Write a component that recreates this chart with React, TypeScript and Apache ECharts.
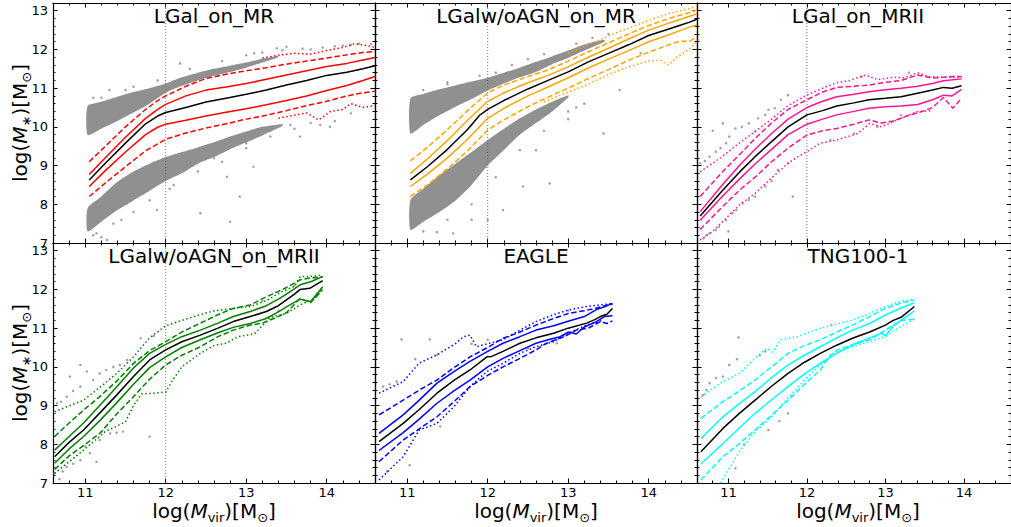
import React, { useEffect, useRef } from "react";
import * as echarts from "echarts";

const FONT = "DejaVu Sans";
const X_MIN = 10.6;
const X_MAX = 14.6;
const Y_MIN = 7;
const Y_MAX = 13.2;
const X_MAJOR = [11, 12, 13, 14];
const X_MINOR = [10.6, 10.8, 11.0, 11.2, 11.4, 11.6, 11.8, 12.0, 12.2, 12.4, 12.6, 12.8, 13.0, 13.2, 13.4, 13.6, 13.8, 14.0, 14.2, 14.4, 14.6];
const Y_MAJOR = [7, 8, 9, 10, 11, 12, 13];
const Y_MINOR = [7.0, 7.2, 7.4, 7.6, 7.8, 8.0, 8.2, 8.4, 8.6, 8.8, 9.0, 9.2, 9.4, 9.6, 9.8, 10.0, 10.2, 10.4, 10.6, 10.8, 11.0, 11.2, 11.4, 11.6, 11.8, 12.0, 12.2, 12.4, 12.6, 12.8, 13.0, 13.2];

const TITLES = ["LGal_on_MR", "LGalw/oAGN_on_MR", "LGal_on_MRII", "LGalw/oAGN_on_MRII", "EAGLE", "TNG100-1"];
const COLORS = ["#ff0000", "#ffa500", "#ff1493", "#008000", "#0000ff", "#00ffff"];
const VLINE_PANELS = [0, 1, 2, 3];

// ---------- Panel 1: LGal_on_MR ----------
const P1_MED = [[11.05,8.63],[11.25,9.06],[11.5,9.58],[11.75,10.08],[11.9,10.28],[12.0,10.37],[12.25,10.5],[12.5,10.64],[12.75,10.74],[13.0,10.84],[13.25,10.95],[13.5,11.08],[13.75,11.2],[14.0,11.33],[14.25,11.41],[14.45,11.5],[14.6,11.58]];
const P1_HI1 = [[11.05,8.77],[11.25,9.2],[11.5,9.73],[11.75,10.22],[11.9,10.45],[12.0,10.58],[12.25,10.8],[12.5,10.95],[12.75,11.03],[13.0,11.12],[13.25,11.23],[13.5,11.34],[13.75,11.45],[14.0,11.56],[14.25,11.64],[14.45,11.73],[14.6,11.79]];
const P1_LO1 = [[11.05,8.46],[11.25,8.87],[11.5,9.35],[11.75,9.8],[11.9,9.99],[12.0,10.07],[12.25,10.17],[12.5,10.28],[12.75,10.38],[13.0,10.47],[13.25,10.57],[13.5,10.68],[13.75,10.8],[14.0,10.94],[14.25,11.07],[14.45,11.2],[14.6,11.3]];
const P1_HI2 = [[11.05,9.1],[11.25,9.5],[11.5,10.0],[11.75,10.45],[11.9,10.68],[12.0,10.8],[12.25,11.05],[12.5,11.25],[12.75,11.36],[13.0,11.45],[13.25,11.53],[13.5,11.62],[13.75,11.7],[14.0,11.78],[14.25,11.86],[14.45,11.92],[14.6,11.95]];
const P1_LO2 = [[11.05,8.2],[11.25,8.55],[11.5,8.97],[11.75,9.38],[12.0,9.68],[12.25,9.84],[12.5,9.97],[12.75,10.08],[13.0,10.2],[13.25,10.3],[13.5,10.42],[13.75,10.55],[14.0,10.66],[14.25,10.8],[14.45,10.88],[14.6,10.92]];
const P1_HI3 = [[13.2,11.78],[13.4,11.85],[13.6,11.9],[13.8,11.88],[14.0,11.97],[14.2,12.05],[14.35,12.15],[14.5,12.1],[14.6,12.05]];
const P1_LO3 = [[13.4,10.22],[13.6,10.3],[13.75,10.36],[13.9,10.18],[14.05,10.4],[14.2,10.45],[14.3,10.6],[14.45,10.5],[14.6,10.55]];
const P1_CLOUD_UP_X = [11.03,11.2,11.4,11.6,11.8,12.0,12.2,12.4,12.6,12.8,13.0,13.2,13.4];
const P1_CLOUD_UP_TOP = [10.54,10.65,10.78,10.9,11.0,11.12,11.28,11.4,11.5,11.58,11.66,11.76,11.84];
const P1_CLOUD_UP_BOT = [9.79,9.95,10.15,10.37,10.6,10.88,11.06,11.2,11.32,11.42,11.53,11.66,11.8];
const P1_CLOUD_LO_X = [11.03,11.2,11.4,11.6,11.8,12.0,12.2,12.4,12.6,12.8,13.0,13.2,13.45];
const P1_CLOUD_LO_TOP = [7.9,8.2,8.58,8.85,9.05,9.22,9.35,9.47,9.6,9.75,9.88,10.0,10.07];
const P1_CLOUD_LO_BOT = [7.3,7.55,7.85,8.1,8.35,8.6,8.8,9.05,9.22,9.42,9.6,9.78,10.02];
const P1_PTS = [[11.14,7.25],[11.27,7.08],[11.52,8.02],[11.72,8.28],[11.89,7.85],[12.43,7.77],[12.76,8.71],[12.8,7.55],[12.92,8.2],[13.09,8.97],[13.0,9.58],[13.67,9.75],[13.92,10.05],[14.04,10.0],[11.6,11.04],[12.18,11.64],[13.38,12.03],[13.5,12.07],[13.1,11.9],[13.8,12.0],[14.2,12.1],[14.4,12.15],[13.3,9.9],[13.55,10.05],[12.6,9.2],[12.3,9.05],[11.2,7.15],[11.45,7.6],[12.05,8.4],[11.3,10.95],[11.1,10.75],
  [11.2,10.75],[11.5,10.95],[11.9,11.2],[12.3,11.5],[12.7,11.7],[13.0,11.85],[13.2,11.92],[13.45,11.98],[13.7,12.02],[13.95,12.05],[14.1,12.08],[14.3,12.12],[14.55,12.14],
  [11.1,7.2],[11.35,7.5],[11.6,7.8],[11.8,8.1],[12.1,8.5],[12.4,8.85],[12.7,9.1],[13.0,9.45],[13.3,9.75],[13.6,9.95],[13.8,10.1],[14.1,10.15],[14.3,10.35]];

// ---------- Panel 2: LGalw/oAGN_on_MR ----------
const P2_MED = [[11.04,8.63],[11.25,8.97],[11.5,9.42],[11.75,9.93],[11.9,10.3],[12.0,10.45],[12.2,10.68],[12.5,10.98],[12.75,11.2],[13.0,11.42],[13.25,11.68],[13.5,11.9],[13.75,12.12],[14.0,12.36],[14.25,12.53],[14.4,12.63],[14.5,12.7],[14.6,12.78]];
const P2_HI1 = [[11.04,8.8],[11.25,9.17],[11.5,9.65],[11.75,10.17],[12.0,10.66],[12.2,10.88],[12.5,11.14],[12.75,11.33],[13.0,11.55],[13.25,11.8],[13.5,12.03],[13.75,12.27],[14.0,12.5],[14.25,12.68],[14.5,12.85],[14.6,12.92]];
const P2_LO1 = [[11.04,8.46],[11.25,8.78],[11.5,9.2],[11.75,9.68],[12.0,10.22],[12.2,10.48],[12.5,10.8],[12.75,11.03],[13.0,11.27],[13.25,11.52],[13.5,11.75],[13.75,11.97],[14.0,12.2],[14.25,12.38],[14.5,12.57],[14.6,12.63]];
const P2_HI2 = [[11.04,9.12],[11.25,9.47],[11.5,9.93],[11.75,10.42],[12.0,10.88],[12.2,11.08],[12.5,11.3],[12.75,11.47],[13.0,11.7],[13.25,11.94],[13.5,12.17],[13.75,12.4],[14.0,12.62],[14.25,12.8],[14.5,12.95],[14.6,13.02]];
const P2_LO2 = [[11.04,8.2],[11.25,8.5],[11.5,8.92],[11.75,9.38],[12.0,9.92],[12.2,10.18],[12.5,10.52],[12.75,10.77],[13.0,11.0],[13.25,11.25],[13.5,11.48],[13.75,11.72],[14.0,11.93],[14.25,12.12],[14.4,12.22],[14.5,12.2],[14.6,12.33]];
const P2_HI3 = [[13.0,11.9],[13.25,12.12],[13.5,12.35],[13.75,12.55],[14.0,12.75],[14.25,12.93],[14.5,13.05],[14.6,13.12]];
const P2_LO3 = [[12.7,10.65],[13.0,10.9],[13.25,11.1],[13.5,11.35],[13.75,11.55],[14.0,11.7],[14.15,11.72],[14.25,11.6],[14.35,11.8],[14.5,12.0],[14.6,12.2]];
const P2_CLOUD_UP_X = [11.04,11.2,11.4,11.6,11.8,12.0,12.2,12.4,12.6,12.8,13.0,13.2,13.45];
const P2_CLOUD_UP_TOP = [10.74,10.85,10.97,11.07,11.17,11.27,11.4,11.53,11.68,11.82,11.97,12.13,12.25];
const P2_CLOUD_UP_BOT = [9.83,10.05,10.3,10.52,10.72,10.94,11.12,11.28,11.42,11.62,11.78,11.97,12.2];
const P2_CLOUD_LO_X = [11.04,11.2,11.4,11.6,11.8,12.0,12.2,12.4,12.6,12.8,13.0];
const P2_CLOUD_LO_TOP = [8.11,8.4,8.75,9.05,9.35,9.66,9.95,10.22,10.45,10.65,10.82];
const P2_CLOUD_LO_BOT = [7.34,7.55,7.8,8.1,8.5,9.0,9.4,9.8,10.1,10.4,10.76];
const P2_PTS = [[12.44,8.46],[12.19,7.85],[12.77,8.54],[12.0,7.6],[13.44,9.83],[13.64,10.95],[11.57,7.25],[11.37,7.28],[11.8,7.6],[12.6,9.4],[13.0,10.2],[13.1,10.5],[12.1,11.4],[12.5,11.75],[11.5,11.15],[13.3,12.3],[13.9,11.9],
  [11.2,10.95],[11.5,11.1],[11.9,11.32],[12.3,11.6],[12.7,11.88],[13.1,12.15],[13.5,12.4],
  [11.2,7.3],[11.5,7.6],[11.8,8.0],[12.1,8.7],[12.4,9.4],[12.7,9.9],[13.0,10.4],[13.2,10.6]];

// ---------- Panel 3: LGal_on_MRII ----------
const P3_MED = [[10.64,7.7],[10.93,8.37],[11.15,8.85],[11.34,9.23],[11.55,9.62],[11.76,10.0],[12.0,10.31],[12.2,10.42],[12.38,10.54],[12.6,10.62],[12.79,10.7],[13.0,10.74],[13.2,10.78],[13.41,10.87],[13.6,10.95],[13.74,11.02],[13.85,11.0],[13.97,11.06]];
const P3_HI1 = [[10.64,7.81],[10.93,8.52],[11.15,9.02],[11.34,9.42],[11.55,9.83],[11.76,10.2],[12.0,10.5],[12.2,10.66],[12.38,10.78],[12.6,10.84],[12.79,10.91],[13.0,10.96],[13.2,11.0],[13.41,11.05],[13.6,11.12],[13.74,11.19],[13.97,11.24]];
const P3_LO1 = [[10.64,7.59],[10.93,8.22],[11.15,8.67],[11.34,9.04],[11.55,9.42],[11.76,9.8],[12.0,10.07],[12.2,10.2],[12.38,10.31],[12.6,10.4],[12.79,10.48],[13.0,10.52],[13.2,10.54],[13.41,10.58],[13.6,10.7],[13.74,10.82],[13.85,10.8],[13.97,10.97]];
const P3_HI2 = [[10.64,8.2],[10.93,8.85],[11.15,9.3],[11.34,9.7],[11.55,10.1],[11.76,10.45],[12.0,10.7],[12.2,10.9],[12.38,11.02],[12.6,11.05],[12.79,11.08],[13.0,11.15],[13.2,11.2],[13.41,11.34],[13.6,11.26],[13.74,11.28],[13.85,11.3],[13.97,11.3]];
const P3_LO2 = [[10.64,7.35],[10.93,7.95],[11.15,8.38],[11.34,8.7],[11.55,9.1],[11.76,9.45],[12.0,9.79],[12.2,9.9],[12.38,9.96],[12.6,10.07],[12.79,10.18],[12.95,10.1],[13.1,10.15],[13.3,10.3],[13.5,10.42],[13.6,10.5],[13.74,10.76],[13.86,10.48],[13.97,10.74]];
const P3_HI3 = [[10.64,8.84],[10.9,9.2],[11.15,9.6],[11.34,9.88],[11.55,10.2],[11.76,10.55],[12.0,10.82],[12.2,11.0],[12.38,11.14],[12.55,11.2],[12.75,11.34],[12.9,11.22],[13.1,11.28],[13.25,11.27],[13.41,11.4],[13.55,11.3],[13.74,11.28],[13.97,11.28]];
const P3_LO3 = [[10.64,7.08],[10.8,7.3],[10.95,7.6],[11.15,8.0],[11.34,8.28],[11.55,8.68],[11.76,9.06],[11.9,9.25],[12.0,9.36],[12.17,9.58],[12.38,9.66],[12.65,9.83],[12.8,10.09],[12.95,10.0],[13.15,10.18],[13.4,10.39],[13.6,10.42]];
const P3_PTS = [[10.64,9.06],[10.7,9.12],[10.76,9.23],[10.84,9.36],[10.9,9.45],[10.97,9.58],[11.01,9.75],[11.09,9.96],[11.17,10.0],[11.26,10.09],[11.34,9.88],[11.38,10.22],[11.47,10.31],[11.51,10.44],[11.59,10.48],[11.67,10.7],[11.76,10.82],[10.93,10.09],[10.8,9.9],[10.68,7.12],[10.72,7.2],[10.76,7.25],[10.84,7.34],[10.88,7.42],[10.97,7.59],[11.05,7.77],[11.1,7.85],[11.18,8.02],[11.26,8.11],[11.34,8.2],[11.47,8.46],[11.55,8.6],[11.63,8.89],[11.76,9.06],[11.82,8.2],[11.0,7.3],[12.6,9.83],[12.9,10.0],[12.3,9.66],[12.7,11.3],[13.3,11.4],[13.2,10.3]];

// ---------- Panel 4: LGalw/oAGN_on_MRII ----------
const P4_MED = [[10.62,7.68],[10.8,8.05],[10.98,8.37],[11.2,8.85],[11.39,9.27],[11.6,9.75],[11.8,10.18],[12.0,10.44],[12.2,10.65],[12.43,10.82],[12.65,11.0],[12.84,11.17],[13.05,11.3],[13.25,11.43],[13.4,11.58],[13.5,11.73],[13.6,11.88],[13.67,12.0],[13.79,12.03],[13.95,12.23]];
const P4_HI1 = [[10.62,7.85],[10.8,8.2],[10.98,8.55],[11.2,9.05],[11.39,9.48],[11.6,9.97],[11.8,10.35],[12.0,10.58],[12.2,10.78],[12.43,10.95],[12.65,11.13],[12.84,11.3],[13.05,11.43],[13.25,11.58],[13.4,11.75],[13.5,11.88],[13.67,12.12],[13.8,12.2],[13.95,12.33]];
const P4_LO1 = [[10.62,7.51],[10.8,7.88],[10.98,8.2],[11.2,8.65],[11.39,9.07],[11.6,9.55],[11.8,9.98],[12.0,10.26],[12.2,10.5],[12.43,10.7],[12.65,10.88],[12.84,11.02],[13.05,11.12],[13.25,11.25],[13.4,11.42],[13.5,11.55],[13.67,11.75],[13.8,11.68],[13.95,12.07]];
const P4_HI2 = [[10.62,8.2],[10.8,8.55],[11.0,8.92],[11.18,9.23],[11.4,9.65],[11.6,10.09],[11.8,10.42],[12.0,10.65],[12.2,10.9],[12.43,11.13],[12.65,11.35],[12.84,11.51],[13.05,11.6],[13.25,11.81],[13.4,11.95],[13.5,12.05],[13.67,12.25],[13.8,12.3],[13.95,12.33]];
const P4_LO2 = [[10.62,7.35],[10.8,7.7],[11.0,8.0],[11.18,8.28],[11.4,8.8],[11.6,9.23],[11.8,9.68],[12.0,10.05],[12.2,10.3],[12.43,10.52],[12.65,10.78],[12.84,10.95],[13.05,11.08],[13.2,11.13],[13.4,11.3],[13.5,11.4],[13.67,11.77],[13.8,11.66],[13.95,11.99]];
const P4_HI3 = [[10.62,8.84],[10.98,9.14],[11.2,9.5],[11.39,9.83],[11.6,10.26],[11.8,10.75],[12.0,11.06],[12.2,11.2],[12.4,11.33],[12.6,11.45],[12.84,11.51],[13.05,11.56],[13.25,11.71],[13.45,11.95],[13.6,12.08],[13.67,12.33],[13.8,12.34],[13.95,12.37]];
const P4_LO3 = [[10.62,7.25],[10.98,7.85],[11.25,8.33],[11.5,8.58],[11.6,9.0],[11.7,9.3],[11.85,9.32],[12.0,9.35],[12.1,9.7],[12.2,10.0],[12.43,10.35],[12.6,10.55],[12.75,10.61],[12.9,10.78],[13.1,10.85],[13.3,11.28],[13.5,11.38],[13.67,11.6],[13.85,11.77],[13.95,12.03]];
const P4_PTS = [[10.65,9.06],[10.7,9.1],[10.77,9.23],[10.85,9.38],[10.94,9.49],[10.81,9.75],[10.94,10.05],[11.02,9.88],[11.1,9.66],[11.18,9.83],[11.26,9.92],[11.35,10.0],[11.43,10.05],[11.52,10.18],[11.69,10.74],[11.85,10.8],[10.62,7.25],[10.68,7.1],[10.72,7.3],[10.77,7.42],[10.85,7.5],[10.94,7.59],[11.06,7.77],[11.14,7.55],[11.18,8.11],[11.31,8.28],[11.39,8.3],[11.47,8.33],[11.8,8.2],[11.0,7.95],[13.4,11.45],[13.6,12.1],[13.85,12.3],[13.2,11.7]];

// ---------- Panel 5: EAGLE ----------
const P5_MED = [[10.65,8.07],[10.95,8.54],[11.15,8.9],[11.37,9.32],[11.58,9.65],[11.78,9.92],[11.99,10.26],[12.05,10.27],[12.19,10.4],[12.4,10.61],[12.6,10.75],[12.82,10.87],[13.0,11.0],[13.23,11.13],[13.33,11.22],[13.4,11.3],[13.48,11.36],[13.55,11.51]];
const P5_HI1 = [[10.65,8.28],[10.95,8.76],[11.15,9.14],[11.37,9.58],[11.58,9.88],[11.78,10.14],[12.0,10.4],[12.19,10.61],[12.4,10.78],[12.6,10.95],[12.82,11.06],[13.0,11.18],[13.2,11.3],[13.35,11.48],[13.45,11.55],[13.55,11.64]];
const P5_LO1 = [[10.65,7.84],[10.95,8.3],[11.15,8.65],[11.37,9.06],[11.58,9.38],[11.78,9.66],[12.0,10.0],[12.19,10.22],[12.4,10.42],[12.6,10.61],[12.75,10.7],[12.9,10.78],[13.0,10.9],[13.1,10.85],[13.2,11.03],[13.35,11.17],[13.45,11.3],[13.55,11.32]];
const P5_HI2 = [[10.65,8.76],[10.95,9.14],[11.15,9.4],[11.37,9.66],[11.58,9.98],[11.78,10.26],[12.0,10.5],[12.19,10.74],[12.4,10.9],[12.6,11.08],[12.82,11.25],[13.0,11.38],[13.2,11.45],[13.35,11.52],[13.45,11.58],[13.55,11.62]];
const P5_LO2 = [[10.65,7.55],[10.95,8.11],[11.15,8.4],[11.37,8.71],[11.58,9.1],[11.78,9.49],[12.0,9.78],[12.19,10.0],[12.4,10.22],[12.6,10.44],[12.73,10.61],[12.95,10.78],[13.1,10.95],[13.25,11.0],[13.4,11.17],[13.48,11.12],[13.55,11.19]];
const P5_HI3 = [[10.65,9.32],[10.95,9.62],[11.15,10.1],[11.37,10.31],[11.6,10.6],[11.7,10.78],[11.78,10.82],[11.86,10.52],[12.0,10.6],[12.19,10.7],[12.4,10.95],[12.6,11.17],[12.82,11.35],[13.0,11.47],[13.2,11.55],[13.4,11.6],[13.55,11.64]];
const P5_LO3 = [[10.65,7.08],[10.95,7.68],[11.15,8.37],[11.37,8.54],[11.58,8.97],[11.78,9.49],[11.99,9.88],[12.19,10.09],[12.4,10.35],[12.6,10.52],[12.82,10.65],[13.0,10.87],[13.23,11.08],[13.44,11.21]];
const P5_PTS = [[10.93,10.71],[11.28,10.71],[10.7,9.49],[10.78,9.55],[10.87,9.62],[11.37,10.31],[11.1,10.2],[11.41,8.46],[11.03,7.46],[12.86,10.61],[12.5,10.48],[11.8,10.6],[12.0,10.7],[13.0,11.45],[10.75,7.3]];

// ---------- Panel 6: TNG100-1 ----------
const P6_MED = [[10.65,7.81],[10.93,8.41],[11.14,8.8],[11.34,9.14],[11.55,9.5],[11.76,9.83],[11.97,10.12],[12.17,10.35],[12.38,10.56],[12.58,10.74],[12.8,10.9],[13.0,11.08],[13.1,11.2],[13.2,11.28],[13.37,11.56]];
const P6_HI1 = [[10.65,8.15],[10.93,8.71],[11.14,9.05],[11.34,9.36],[11.55,9.72],[11.76,10.05],[11.97,10.3],[12.17,10.52],[12.38,10.75],[12.58,10.95],[12.8,11.12],[13.0,11.34],[13.2,11.52],[13.37,11.66]];
const P6_LO1 = [[10.65,7.49],[10.93,8.02],[11.14,8.42],[11.34,8.8],[11.55,9.15],[11.76,9.49],[11.97,9.82],[12.17,10.09],[12.38,10.35],[12.58,10.57],[12.8,10.75],[12.95,10.87],[13.0,10.8],[13.1,11.05],[13.2,11.2],[13.37,11.45]];
const P6_HI2 = [[10.65,8.67],[10.93,9.1],[11.14,9.38],[11.34,9.66],[11.55,10.0],[11.76,10.35],[11.97,10.55],[12.17,10.7],[12.38,10.9],[12.58,11.08],[12.8,11.3],[13.0,11.51],[13.2,11.65],[13.37,11.73]];
const P6_LO2 = [[10.65,7.08],[10.93,7.68],[11.14,8.02],[11.34,8.37],[11.55,8.75],[11.76,9.14],[11.97,9.55],[12.17,9.92],[12.3,10.3],[12.4,10.45],[12.58,10.57],[12.8,10.7],[13.0,10.95],[13.2,11.2],[13.37,11.23]];
const P6_HI3 = [[10.65,9.23],[10.93,9.62],[11.14,9.83],[11.34,10.22],[11.45,10.42],[11.5,10.48],[11.56,10.38],[11.67,10.7],[11.88,10.78],[12.17,11.0],[12.58,11.21],[12.8,11.38],[13.0,11.56],[13.2,11.7],[13.37,11.75]];
const P6_LO3 = [[10.9,7.0],[11.14,7.81],[11.34,8.33],[11.55,8.71],[11.76,9.2],[11.97,9.66],[12.17,10.05],[12.38,10.39],[12.58,10.52],[12.8,10.65],[13.0,10.78],[13.16,11.0],[13.37,11.23]];
const P6_PTS = [[10.68,9.27],[10.72,9.4],[10.76,9.58],[10.84,9.71],[10.93,9.75],[11.01,10.05],[11.11,10.2],[11.13,10.76],[11.4,10.3],[11.47,10.4],[11.09,7.38],[11.51,8.37],[11.65,8.6],[11.76,8.8],[12.31,11.08],[12.58,10.55],[12.65,10.62],[11.2,8.0]];

const PANELS = [
  { med: P1_MED, hi1: P1_HI1, lo1: P1_LO1, hi2: P1_HI2, lo2: P1_LO2, hi3: P1_HI3, lo3: P1_LO3, pts: P1_PTS,
    clouds: [{ x: P1_CLOUD_UP_X, top: P1_CLOUD_UP_TOP, bot: P1_CLOUD_UP_BOT }, { x: P1_CLOUD_LO_X, top: P1_CLOUD_LO_TOP, bot: P1_CLOUD_LO_BOT }] },
  { med: P2_MED, hi1: P2_HI1, lo1: P2_LO1, hi2: P2_HI2, lo2: P2_LO2, hi3: P2_HI3, lo3: P2_LO3, pts: P2_PTS,
    clouds: [{ x: P2_CLOUD_UP_X, top: P2_CLOUD_UP_TOP, bot: P2_CLOUD_UP_BOT }, { x: P2_CLOUD_LO_X, top: P2_CLOUD_LO_TOP, bot: P2_CLOUD_LO_BOT }] },
  { med: P3_MED, hi1: P3_HI1, lo1: P3_LO1, hi2: P3_HI2, lo2: P3_LO2, hi3: P3_HI3, lo3: P3_LO3, pts: P3_PTS, clouds: [] },
  { med: P4_MED, hi1: P4_HI1, lo1: P4_LO1, hi2: P4_HI2, lo2: P4_LO2, hi3: P4_HI3, lo3: P4_LO3, pts: P4_PTS, clouds: [] },
  { med: P5_MED, hi1: P5_HI1, lo1: P5_LO1, hi2: P5_HI2, lo2: P5_LO2, hi3: P5_HI3, lo3: P5_LO3, pts: P5_PTS, clouds: [] },
  { med: P6_MED, hi1: P6_HI1, lo1: P6_LO1, hi2: P6_HI2, lo2: P6_LO2, hi3: P6_HI3, lo3: P6_LO3, pts: P6_PTS, clouds: [] },
];

const PANEL_W = 322;
const PANEL_H = 240;
const LEFT0 = 53;
const TOP0 = 3;
const GRAY = "#8a8a8a";

function buildOption() {
  const grids: any[] = [];
  const xAxes: any[] = [];
  const yAxes: any[] = [];
  const series: any[] = [];
  const graphics: any[] = [];
  const frame = { show: true, onZero: false, lineStyle: { color: "#000", width: 1.2 } };
  const tickStyle = { color: "#000", width: 1 };

  PANELS.forEach((p, i) => {
    const col = i % 3;
    const row = Math.floor(i / 3);
    const left = LEFT0 + col * PANEL_W;
    const top = TOP0 + row * PANEL_H;
    grids.push({ left, top, width: PANEL_W, height: PANEL_H, containLabel: false });
    const showX = row === 1;
    const showY = col === 0;
    const xb = { type: "value", gridIndex: i, min: X_MIN, max: X_MAX, splitLine: { show: false }, silent: true };
    const yb = { type: "value", gridIndex: i, min: Y_MIN, max: Y_MAX, splitLine: { show: false }, silent: true };
    for (const pos of ["bottom", "top"]) {
      xAxes.push({ ...xb, position: pos, axisLine: frame,
        axisTick: { show: true, inside: true, length: 4.5, customValues: X_MAJOR, lineStyle: tickStyle },
        axisLabel: pos === "bottom" && showX
          ? { show: true, customValues: X_MAJOR, margin: 3, fontSize: 13, color: "#000", fontFamily: FONT }
          : { show: false } });
      xAxes.push({ ...xb, position: pos, axisLine: { show: false },
        axisTick: { show: true, inside: true, length: 2.5, customValues: X_MINOR, lineStyle: tickStyle },
        axisLabel: { show: false } });
    }
    for (const pos of ["left", "right"]) {
      yAxes.push({ ...yb, position: pos, axisLine: frame,
        axisTick: { show: true, inside: true, length: 4.5, customValues: Y_MAJOR, lineStyle: tickStyle },
        axisLabel: pos === "left" && showY
          ? { show: true, customValues: Y_MAJOR, margin: 5, fontSize: 13, color: "#000", fontFamily: FONT, showMinLabel: true, showMaxLabel: true }
          : { show: false } });
      yAxes.push({ ...yb, position: pos, axisLine: { show: false },
        axisTick: { show: true, inside: true, length: 2.5, customValues: Y_MINOR, lineStyle: tickStyle },
        axisLabel: { show: false } });
    }
    const xi = 4 * i;
    const yi = 4 * i;
    const color = COLORS[i];

    p.clouds.forEach((c) => {
      series.push({
        type: "custom", xAxisIndex: xi, yAxisIndex: yi, clip: true, silent: true, z: 1,
        data: [[c.x[0], c.top[0]]],
        renderItem: (_params: any, api: any) => {
          const pts: number[][] = [];
          for (let k = 0; k < c.x.length; k++) pts.push(api.coord([c.x[k], c.top[k]]));
          for (let k = c.x.length - 1; k >= 0; k--) pts.push(api.coord([c.x[k], c.bot[k]]));
          return { type: "polygon", shape: { points: pts, smooth: 0.2 }, style: { fill: GRAY, opacity: 0.95 } };
        },
      });
    });
    series.push({ type: "scatter", xAxisIndex: xi, yAxisIndex: yi, data: p.pts, symbolSize: 2.5,
      itemStyle: { color: GRAY, opacity: 0.8 }, silent: true, z: 2 });
    if (VLINE_PANELS.includes(i)) {
      series.push({ type: "line", xAxisIndex: xi, yAxisIndex: yi, data: [[12, Y_MIN], [12, Y_MAX]], showSymbol: false,
        lineStyle: { color: "#555", width: 0.8, type: [1, 2] }, silent: true, z: 2 });
    }
    const addLine = (data: number[][], c: string, type: any, z: number) => {
      series.push({ type: "line", xAxisIndex: xi, yAxisIndex: yi, data, showSymbol: false, symbol: "none",
        lineStyle: { color: c, width: 1.5, type }, silent: true, z });
    };
    addLine(p.hi3, color, [1.5, 2.5], 3);
    addLine(p.lo3, color, [1.5, 2.5], 3);
    addLine(p.hi2, color, [5.5, 2.6], 3);
    addLine(p.lo2, color, [5.5, 2.6], 3);
    addLine(p.hi1, color, "solid", 3);
    addLine(p.lo1, color, "solid", 3);
    addLine(p.med, "#000", "solid", 4);

    graphics.push({ type: "text", x: left + PANEL_W / 2, y: top + 13, z: 10,
      style: { text: TITLES[i], fontSize: 20, fontFamily: FONT, fill: "#000", align: "center", verticalAlign: "middle" } });
  });

  const sub = { fontSize: 13, fontFamily: FONT, fill: "#000", lineHeight: 10, verticalAlign: "bottom" };
  const main = { fontSize: 20, fontFamily: FONT, fill: "#000", lineHeight: 26 };
  const ital = { ...main, fontStyle: "italic" };
  for (let r = 0; r < 2; r++) {
    graphics.push({ type: "text", x: 20, y: TOP0 + r * PANEL_H + PANEL_H / 2, rotation: Math.PI / 2, z: 10,
      style: { text: "{a|log(}{i|M}{s|∗}{a|)[M}{s|⊙}{a|]}", rich: { a: main, i: ital, s: sub },
        align: "center", verticalAlign: "middle", fontSize: 20, fontFamily: FONT } });
  }
  for (let c = 0; c < 3; c++) {
    graphics.push({ type: "text", x: LEFT0 + c * PANEL_W + PANEL_W / 2, y: 511, z: 10,
      style: { text: "{a|log(}{i|M}{s|vir}{a|)[M}{s|⊙}{a|]}", rich: { a: main, i: ital, s: sub },
        align: "center", verticalAlign: "middle", fontSize: 20, fontFamily: FONT } });
  }

  return {
    animation: false,
    backgroundColor: "#fff",
    grid: grids,
    xAxis: xAxes,
    yAxis: yAxes,
    series,
    graphic: graphics,
  };
}

export default function App() {
  const ref = useRef<HTMLDivElement>(null);
  useEffect(() => {
    document.body.style.margin = "0";
    if (!ref.current) return;
    const chart = echarts.init(ref.current, null, { renderer: "svg" });
    chart.setOption(buildOption() as any);
    return () => chart.dispose();
  }, []);
  return <div ref={ref} style={{ width: 1011, height: 527 }} />;
}
